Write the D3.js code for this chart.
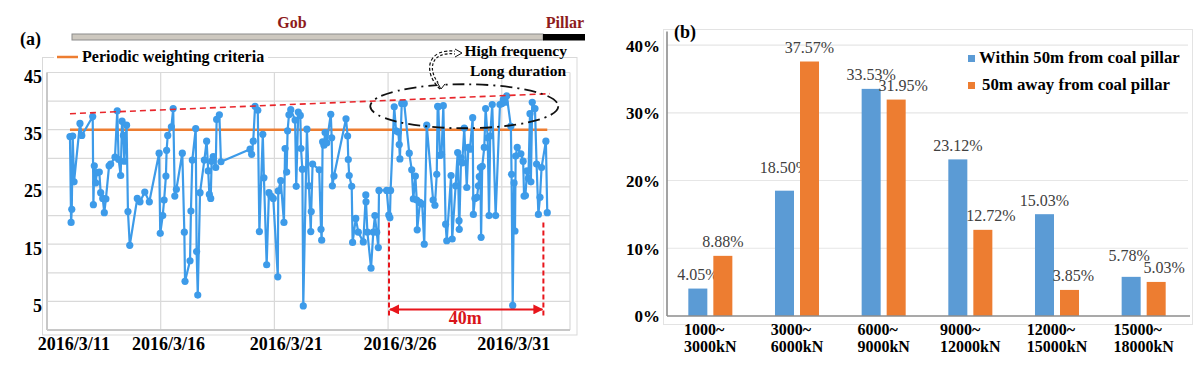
<!DOCTYPE html>
<html>
<head>
<meta charset="utf-8">
<script src="https://cdn.jsdelivr.net/npm/d3@7"></script>
<style>
  body { margin: 0; background: #fff; }
  svg { display: block; font-family: "Liberation Serif", "Times New Roman", serif; }
</style>
</head>
<body>
<svg id="chart" width="1200" height="368"></svg>
<script>
// ---- (a) weighting records, time in days counted from 2016/3/11 00:00 ----
const days = [1.01,1.06,1.09,1.13,1.19,1.45,1.53,2.01,2.04,2.08,2.14,2.19,2.30,2.36,2.45,2.52,2.59,2.73,2.80,2.99,
  3.09,3.15,3.24,3.30,3.36,3.40,3.50,3.56,3.64,3.97,4.09,4.30,4.50,4.93,4.98,5.09,5.15,5.23,5.26,5.31,
  5.47,5.55,5.62,5.69,5.95,6.04,6.07,6.29,6.33,6.39,6.54,6.58,6.63,6.73,6.92,7.02,7.09,7.14,7.20,7.24,
  7.31,7.42,7.46,7.58,7.65,8.93,9.00,9.07,9.15,9.27,9.34,9.49,9.54,9.66,9.76,9.85,9.95,10.15,10.17,10.28,
  10.42,10.47,10.54,10.58,10.64,10.72,10.91,10.96,11.05,11.14,11.17,11.23,11.27,11.43,11.52,11.60,11.62,11.68,11.97,12.05,
  12.08,12.12,12.18,12.23,12.30,12.48,12.52,12.55,12.62,13.15,13.22,13.25,13.29,13.40,13.44,13.58,13.69,13.91,14.02,14.03,
  14.09,14.25,14.35,14.42,14.50,14.57,14.60,14.94,15.03,15.08,15.11,15.27,15.35,15.45,15.49,15.52,15.60,15.71,15.93,16.04,
  16.11,16.20,16.26,16.28,16.40,16.50,16.59,16.70,16.98,17.06,17.14,17.18,17.21,17.28,17.35,17.43,17.53,17.58,17.77,17.82,
  17.97,18.06,18.12,18.13,18.21,18.26,18.35,18.46,18.53,18.60,18.72,18.75,18.82,18.91,18.97,19.01,19.06,19.09,19.14,19.23,
  19.29,19.38,19.44,19.49,19.58,19.73,19.92,20.01,20.07,20.14,20.22,20.40,20.43,20.48,20.54,20.58,20.61,20.68,20.84,20.94,
  20.98,21.04,21.11,21.17,21.24,21.28,21.34,21.46,21.53,21.61,21.68,21.75,21.94,22.00];
const loads = [33.8,18.8,21.1,33.9,25.9,36.1,34.0,37.3,21.9,28.7,25.7,27.5,27.6,24.0,23.0,20.5,22.9,28.7,29.0,30.2,
  38.3,29.8,27.0,36.5,34.0,29.5,35.8,20.7,14.8,23.0,22.4,24.1,22.4,30.9,16.9,20.0,22.7,26.9,31.4,34.0,
  35.5,38.7,23.4,24.6,30.9,17.1,8.5,12.1,20.8,29.7,35.2,13.7,6.1,24.0,29.7,33.0,27.8,23.7,23.0,29.5,
  30.3,28.4,36.8,37.6,29.4,31.6,30.7,33.0,39.1,38.4,17.2,34.2,26.6,11.4,24.0,23.4,23.0,9.3,24.3,26.1,
  18.8,31.7,27.6,34.8,37.6,38.5,36.7,25.1,38.1,37.5,31.7,28.1,4.2,35.1,25.2,17.2,20.7,29.0,28.0,17.6,
  15.7,32.9,32.3,34.5,32.7,37.7,33.6,25.2,26.9,36.9,33.9,29.8,27.0,25.1,15.3,19.5,17.1,15.4,23.6,22.4,
  17.1,10.8,17.1,20.0,17.1,14.4,24.4,24.4,20.1,19.6,24.4,39.0,34.8,34.6,32.4,29.9,39.6,39.6,30.9,28.0,
  22.9,26.9,22.7,17.5,22.3,22.0,15.0,35.8,22.7,21.8,27.2,39.1,39.0,30.5,30.7,39.2,18.5,15.6,27.0,15.9,
  25.2,31.0,19.1,17.6,30.1,29.2,35.3,24.9,31.9,31.6,37.1,20.2,23.0,23.2,25.2,26.8,28.4,16.2,28.6,31.9,
  38.7,33.6,20.0,33.9,39.4,20.0,39.4,39.6,40.3,39.8,40.9,35.6,27.2,4.3,25.7,17.3,30.4,31.9,30.8,29.5,
  23.4,23.5,27.8,26.5,37.8,25.9,39.8,38.7,29.0,20.2,23.2,28.4,33.0,20.5];
const criteria = 35;
const trendDays = [1.01, 22.12];
const trendVals = [37.8, 41.3];
const bracketDays = [15.04, 21.83];
const dateTicks = ["2016/3/11", "2016/3/16", "2016/3/21", "2016/3/26", "2016/3/31"];
const loadTicks = [5, 15, 25, 35, 45];

// ---- (b) share of weighting events by support load ----
const ranges = [["1000~", "3000kN"], ["3000~", "6000kN"], ["6000~", "9000kN"],
                ["9000~", "12000kN"], ["12000~", "15000kN"], ["15000~", "18000kN"]];
const seriesNames = ["Within 50m from coal pillar", "50m away from coal pillar"];
const within50 = [4.05, 18.50, 33.53, 23.12, 15.03, 5.78];
const away50 = [8.88, 37.57, 31.95, 12.72, 3.85, 5.03];
const pctTicks = [0, 10, 20, 30, 40];

const BLUE_A = "#3d9be9", ORANGE = "#ed7d31", BLUE_B = "#5b9bd5";
const svg = d3.select("#chart");
const DAY = 864e5, t0 = Date.UTC(2016, 2, 11);
const toDate = d => new Date(t0 + d * DAY);
const parseDay = s => { const p = s.split("/"); return new Date(Date.UTC(+p[0], +p[1] - 1, +p[2])); };

// =============== chart (a) ===============
const x = d3.scaleUtc().domain([toDate(0), toDate(23)]).range([47, 570]);
const y = d3.scaleLinear().domain([0, 45]).range([330, 72.5]);

// frame
svg.append("rect").attr("x", 42.5).attr("y", 57.5).attr("width", 534.5).attr("height", 277.5)
  .attr("fill", "none").attr("stroke", "#d9d9d9");

// gridlines
svg.append("g").selectAll("line").data(d3.range(0, 50, 5)).join("line")
  .attr("x1", 47).attr("x2", 570).attr("y1", d => y(d)).attr("y2", d => y(d))
  .attr("stroke", "#d9d9d9").attr("stroke-width", 1.2);
svg.append("g").selectAll("line").data(dateTicks.map(parseDay)).join("line")
  .attr("x1", d => x(d)).attr("x2", d => x(d)).attr("y1", y(45)).attr("y2", y(0))
  .attr("stroke", "#d9d9d9").attr("stroke-width", 1.2);
svg.append("line").attr("x1", 570).attr("x2", 570).attr("y1", y(45)).attr("y2", y(0))
  .attr("stroke", "#d9d9d9").attr("stroke-width", 1.2);

// axes lines
svg.append("line").attr("x1", 47).attr("x2", 47).attr("y1", y(45)).attr("y2", y(0))
  .attr("stroke", "#c8c8c8").attr("stroke-width", 2);
svg.append("line").attr("x1", 47).attr("x2", 570).attr("y1", y(0)).attr("y2", y(0))
  .attr("stroke", "#c8c8c8").attr("stroke-width", 2);

// y labels
const yAxisA = svg.append("g").attr("transform", "translate(43,0)")
  .call(d3.axisLeft(y).tickValues(loadTicks).tickSize(0).tickPadding(1));
yAxisA.select(".domain").remove();
yAxisA.selectAll("text").attr("font-family", "Liberation Serif").attr("font-weight", "bold")
  .attr("font-size", 18).attr("fill", "#000").attr("dy", "0.55em");

// x labels, centred on the day
const xAxisA = svg.append("g").attr("transform", "translate(0,337)")
  .call(d3.axisBottom(x).tickValues(dateTicks.map(s => new Date(+parseDay(s) + DAY / 2)))
    .tickFormat((d, i) => dateTicks[i]).tickSize(0).tickPadding(0));
xAxisA.select(".domain").remove();
xAxisA.selectAll("text").attr("font-family", "Liberation Serif").attr("font-weight", "bold")
  .attr("font-size", 18).attr("fill", "#000").attr("dy", "0.71em")
  .attr("dx", (d, i) => i === 0 ? 15 : (i === 1 ? -4 : 0));

// criteria line
svg.append("line").attr("x1", x(toDate(days[0]))).attr("x2", x(toDate(days[days.length - 1])))
  .attr("y1", y(criteria)).attr("y2", y(criteria))
  .attr("stroke", ORANGE).attr("stroke-width", 2.5);

// load series
const pts = d3.zip(days, loads);
svg.append("path").datum(pts)
  .attr("fill", "none").attr("stroke", BLUE_A).attr("stroke-width", 2.2).attr("stroke-linejoin", "round")
  .attr("d", d3.line().x(d => x(toDate(d[0]))).y(d => y(d[1])));
svg.append("g").attr("fill", BLUE_A).selectAll("circle").data(pts).join("circle")
  .attr("cx", d => x(toDate(d[0]))).attr("cy", d => y(d[1])).attr("r", 3.6);

// trend line
svg.append("line")
  .attr("x1", x(toDate(trendDays[0]))).attr("y1", y(trendVals[0]))
  .attr("x2", x(toDate(trendDays[1]))).attr("y2", y(trendVals[1]))
  .attr("stroke", "#e8262b").attr("stroke-width", 1.6).attr("stroke-dasharray", "6,4");

// ellipse + annotation
svg.append("ellipse").attr("cx", x(toDate(18.35))).attr("cy", y(39.1)).attr("rx", 94).attr("ry", 22)
  .attr("fill", "none").attr("stroke", "#111").attr("stroke-width", 1.8).attr("stroke-dasharray", "12,5,2,5");

const defs = svg.append("defs");
defs.append("marker").attr("id", "redhead").attr("viewBox", "0 0 10 10").attr("refX", 9).attr("refY", 5)
  .attr("markerWidth", 5).attr("markerHeight", 5).attr("orient", "auto-start-reverse")
  .append("path").attr("d", "M0,0L10,5L0,10Z").attr("fill", "#e8151b");

const curve = "M441,88 C424,72 428,48 458,53";
svg.append("path").attr("d", curve).attr("fill", "none").attr("stroke", "#111")
  .attr("stroke-width", 4).attr("stroke-dasharray", "3,2");
svg.append("path").attr("d", curve).attr("fill", "none").attr("stroke", "#fff")
  .attr("stroke-width", 1.6);
svg.append("path").attr("d", "M437,82 L441,89 L445,84").attr("fill", "#fff").attr("stroke", "#111").attr("stroke-width", 1);
svg.append("path").attr("d", "M455,49 L462,53 L455,57").attr("fill", "#fff").attr("stroke", "#111").attr("stroke-width", 1);

svg.append("text").attr("x", 567).attr("y", 56).attr("text-anchor", "end")
  .attr("font-weight", "bold").attr("font-size", 15.5).text("High frequency");
svg.append("text").attr("x", 566).attr("y", 76).attr("text-anchor", "end")
  .attr("font-weight", "bold").attr("font-size", 15.5).text("Long duration");

// 40m bracket
const bx = bracketDays.map(d => x(toDate(d)));
svg.append("g").selectAll("line").data(bx).join("line")
  .attr("x1", d => d).attr("x2", d => d).attr("y1", y(18.8)).attr("y2", y(2.3))
  .attr("stroke", "#e8151b").attr("stroke-width", 2).attr("stroke-dasharray", "5,3");
svg.append("line").attr("x1", bx[0] + 1).attr("x2", bx[1] - 1).attr("y1", y(3.6)).attr("y2", y(3.6))
  .attr("stroke", "#e8151b").attr("stroke-width", 2)
  .attr("marker-start", "url(#redhead)").attr("marker-end", "url(#redhead)");
svg.append("text").attr("x", (bx[0] + bx[1]) / 2 - 1).attr("y", y(3.6) + 15).attr("text-anchor", "middle")
  .attr("font-weight", "bold").attr("font-size", 18).attr("fill", "#d9141a").text("40m");

// legend (a)
svg.append("rect").attr("x", 54).attr("y", 47).attr("width", 214).attr("height", 20).attr("fill", "#fff");
svg.append("line").attr("x1", 57).attr("x2", 78).attr("y1", 57).attr("y2", 57)
  .attr("stroke", ORANGE).attr("stroke-width", 2.5);
svg.append("text").attr("x", 82).attr("y", 62).attr("font-weight", "bold").attr("font-size", 16)
  .text("Periodic weighting criteria");

// Gob / Pillar bar
svg.append("rect").attr("x", 72).attr("y", 34).attr("width", 471).attr("height", 6)
  .attr("fill", "#cdc8bf").attr("stroke", "#8c8c8c").attr("stroke-width", 1);
svg.append("rect").attr("x", 543).attr("y", 34).attr("width", 42).attr("height", 6.5).attr("fill", "#000");
svg.append("text").attr("x", 292).attr("y", 28).attr("text-anchor", "middle").attr("font-weight", "bold")
  .attr("font-size", 16).attr("fill", "#8e1b1b").text("Gob");
svg.append("text").attr("x", 584).attr("y", 28).attr("text-anchor", "end").attr("font-weight", "bold")
  .attr("font-size", 16).attr("fill", "#8e1b1b").text("Pillar");
svg.append("text").attr("x", 20).attr("y", 45).attr("font-weight", "bold").attr("font-size", 18).text("(a)");

// =============== chart (b) ===============
const yb = d3.scaleLinear().domain([0, 42]).range([316, 31.5]);
const x0 = d3.scaleBand().domain(d3.range(ranges.length)).range([667, 1187]).paddingInner(0.492).paddingOuter(0.246);
const x1 = d3.scaleBand().domain([0, 1]).range([0, x0.bandwidth()]).paddingInner(0.24);

svg.append("rect").attr("x", 663.5).attr("y", 29.5).attr("width", 529).attr("height", 295)
  .attr("fill", "none").attr("stroke", "#e3e3e3");

svg.append("g").selectAll("line").data(pctTicks.slice(1)).join("line")
  .attr("x1", 667).attr("x2", 1188).attr("y1", d => yb(d)).attr("y2", d => yb(d))
  .attr("stroke", "#e6e6e6").attr("stroke-width", 1.2);

const yAxisB = svg.append("g").attr("transform", "translate(660,0)")
  .call(d3.axisLeft(yb).tickValues(pctTicks).tickFormat(d => d + "%").tickSize(0).tickPadding(0));
yAxisB.select(".domain").remove();
yAxisB.selectAll("text").attr("font-family", "Liberation Serif").attr("font-weight", "bold")
  .attr("font-size", 17).attr("fill", "#000").attr("dy", "0.35em");

const series = [within50, away50];
const colors = [BLUE_B, ORANGE];
// nudges for value labels that Excel moved to avoid overlaps
const labelNudge = [[0, 0, 0, -9, 0, 0, 0, 0, 0, 0, -2, -7], [0, 0, 0, 0, 7, 0, 8, 0, 4, 0, 8, 0]];

series.forEach((vals, s) => {
  const g = svg.append("g");
  g.selectAll("rect").data(vals).join("rect")
    .attr("x", (d, i) => x0(i) + x1(s)).attr("width", x1.bandwidth())
    .attr("y", d => yb(d)).attr("height", d => yb(0) - yb(d)).attr("fill", colors[s]);
  g.selectAll("text").data(vals).join("text")
    .attr("x", (d, i) => x0(i) + x1(s) + x1.bandwidth() / 2 + labelNudge[s][2 * i])
    .attr("y", (d, i) => yb(d) - 8.5 + labelNudge[s][2 * i + 1])
    .attr("text-anchor", "middle").attr("font-size", 16).attr("fill", "#404040")
    .text(d => d.toFixed(2) + "%");
});

// axes lines (b)
svg.append("line").attr("x1", 667).attr("x2", 667).attr("y1", 31.5).attr("y2", yb(0))
  .attr("stroke", "#8c8c8c").attr("stroke-width", 1.6);
svg.append("line").attr("x1", 667).attr("x2", 1190).attr("y1", yb(0)).attr("y2", yb(0))
  .attr("stroke", "#8c8c8c").attr("stroke-width", 1.6);

// category labels, two lines
const cat = svg.append("g").selectAll("text").data(ranges).join("text")
  .attr("font-weight", "bold").attr("font-size", 16).attr("fill", "#000");
cat.each(function (d, i) {
  const t = d3.select(this);
  const cx = x0(i) + x0.bandwidth() / 2;
  const l2 = t.append("tspan").attr("x", cx).attr("y", 352).attr("text-anchor", "middle").text(d[1]);
  const w = l2.node().getComputedTextLength();
  t.append("tspan").attr("x", cx - w / 2).attr("y", 335).text(d[0]);
});

// legend (b)
svg.append("rect").attr("x", 962).attr("y", 46).attr("width", 222).attr("height", 52).attr("fill", "#fff");
seriesNames.forEach((name, s) => {
  svg.append("rect").attr("x", 968).attr("y", 55 + s * 27).attr("width", 7).attr("height", 7).attr("fill", colors[s]);
  svg.append("text").attr("x", 979 + s * 3).attr("y", 63 + s * 27).attr("font-weight", "bold")
    .attr("font-size", 16.8).text(name);
});

svg.append("text").attr("x", 674).attr("y", 38).attr("font-weight", "bold").attr("font-size", 18).text("(b)");
</script>
</body>
</html>
